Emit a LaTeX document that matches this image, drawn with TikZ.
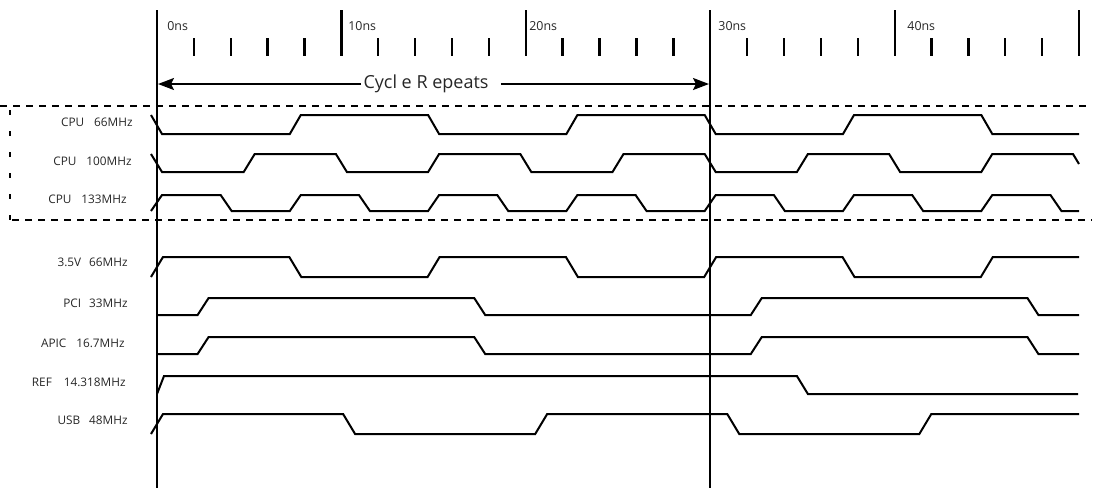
\documentclass[tikz,border=0pt]{standalone}
\usepackage{fontspec}
\setmainfont{Open Sans}
\usetikzlibrary{arrows.meta}
\begin{document}
\begin{tikzpicture}[x=0.5pt,y=-0.5pt,
  wave/.style={line width=1pt, line join=miter},
  major/.style={line width=1.1pt},
  tickmark/.style={line width=1.2pt},
  sep/.style={line width=1pt, dash pattern=on 3.5pt off 3pt},
  lbl/.style={anchor=east, inner sep=0pt, text=black!85, font=\fontsize{5.9}{7}\selectfont},
  tlbl/.style={anchor=west, inner sep=0pt, text=black!85, font=\fontsize{6.2}{7}\selectfont},
  cycarrow/.style={line width=1pt, -{Stealth[length=8pt,width=6pt,inset=1.5pt]}},
]
\useasboundingbox (0,0) rectangle (1097,488);

% time axis
\draw[major] (157,10) -- (157,488);
\draw[major] (710.2,10) -- (710.2,488);
\foreach \x in {341.4,525.8,894.6,1079} \draw[major] (\x,10) -- (\x,56);
\foreach \k in {1,2,3,4,6,7,8,9,11,12,13,14,16,17,18,19,21,22,23,24}
  \draw[tickmark] ({157+36.88*\k},38) -- ({157+36.88*\k},56);

\node[tlbl] (t0) at (167,26) {0ns};
\node[tlbl] (t10) at (348,26) {10ns};
\node[tlbl] (t20) at (529,26) {20ns};
\node[tlbl] (t30) at (718,26) {30ns};
\node[tlbl] (t40) at (907,26) {40ns};

% cycle repeats
\node[inner sep=0pt, text=black!85, font=\fontsize{9}{10}\selectfont] (cyc) at (426,84) {Cycl e R epeats};
\coordinate (c0) at (158,84);
\coordinate (c1) at (709,84);
\draw[cycarrow] ([xshift=-1pt]cyc.west) -- (c0);
\draw[cycarrow] ([xshift=6pt]cyc.east) -- (c1);

% dashed CPU group
\draw[sep] (0,106) -- (1092,106);
\draw[sep] (12,220) -- (1092,220);
\draw[sep, dash pattern=on 2.5pt off 8pt] (10,110) -- (10,220);

% labels
\node[lbl] (l1) at (133,122) {CPU\hspace{5pt}66MHz};
\node[lbl] (l2) at (132,161) {CPU\hspace{5pt}100MHz};
\node[lbl] (l3) at (127,199) {CPU\hspace{5pt}133MHz};
\node[lbl] (l4) at (128,262) {3.5V\hspace{4pt}66MHz};
\node[lbl] (l5) at (128,303) {PCI\hspace{4pt}33MHz};
\node[lbl] (l6) at (125,343) {APIC\hspace{5pt}16.7MHz};
\node[lbl] (l7) at (126,382) {REF\hspace{6pt}14.318MHz};
\node[lbl] (l8) at (128,420) {USB\hspace{4.5pt}48MHz};

% CPU 66MHz
\draw[wave] (151,115) -- (162,134) -- (289.8,134) -- (300.8,115) -- (428.1,115) -- (439.1,134)
  -- (566.4,134) -- (577.4,115) -- (704.7,115) -- (715.7,134) -- (843,134) -- (854,115)
  -- (981.3,115) -- (992.3,134) -- (1079,134);
% CPU 100MHz
\draw[wave] (151,154) -- (162,172) -- (243.7,172) -- (254.7,154) -- (335.9,154) -- (346.9,172)
  -- (428.1,172) -- (439.1,154) -- (520.3,154) -- (531.3,172) -- (612.5,172) -- (623.5,154)
  -- (704.7,154) -- (715.7,172) -- (796.9,172) -- (807.9,154) -- (889.1,154) -- (900.1,172)
  -- (981.3,172) -- (992.3,154) -- (1073,154) -- (1079,164);
% CPU 133MHz
\draw[wave] (151,211) -- (162,195) -- (220.65,195) -- (231.65,211) -- (289.8,211) -- (300.8,195)
  -- (358.95,195) -- (369.95,211) -- (428.1,211) -- (439.1,195) -- (497.25,195) -- (508.25,211)
  -- (566.4,211) -- (577.4,195) -- (635.55,195) -- (646.55,211) -- (704.7,211) -- (715.7,195)
  -- (773.85,195) -- (784.85,211) -- (843,211) -- (854,195) -- (912.15,195) -- (923.15,211)
  -- (981.3,211) -- (992.3,195) -- (1050.45,195) -- (1061.45,211) -- (1079,211);
% 3.5V 66MHz
\draw[wave] (151,277) -- (163,257) -- (289.3,257) -- (301.3,277) -- (427.6,277) -- (439.6,257)
  -- (565.9,257) -- (577.9,277) -- (704.2,277) -- (716.2,257) -- (842.5,257) -- (854.5,277)
  -- (980.8,277) -- (992.8,257) -- (1079,257);
% PCI 33MHz
\draw[wave] (157,315) -- (197.6,315) -- (208.6,298) -- (474.2,298) -- (485.2,315) -- (750.8,315)
  -- (761.8,298) -- (1027.4,298) -- (1038.4,315) -- (1079,315);
% APIC 16.7MHz
\draw[wave] (157,354) -- (197.6,354) -- (208.6,337) -- (474.2,337) -- (485.2,354) -- (750.8,354)
  -- (761.8,337) -- (1027.4,337) -- (1038.4,354) -- (1079,354);
% REF 14.318MHz
\draw[wave] (157,394) -- (164,376) -- (796.9,376) -- (807.9,394) -- (1078,394);
% USB 48MHz
\draw[wave] (151,434) -- (163,414) -- (343.1,414) -- (355.1,434) -- (535.2,434) -- (547.2,414)
  -- (727.25,414) -- (739.25,434) -- (919.3,434) -- (931.3,414) -- (1079,414);
\end{tikzpicture}
\end{document}
